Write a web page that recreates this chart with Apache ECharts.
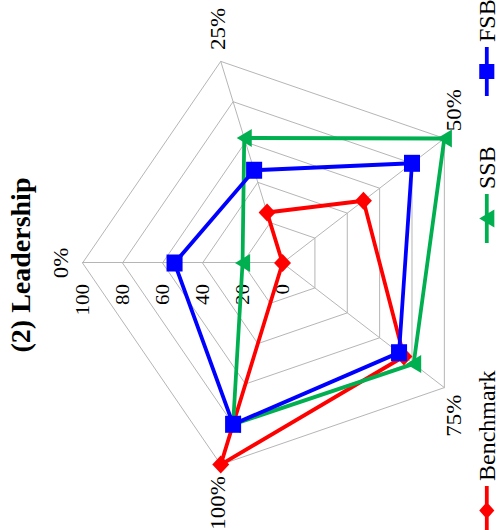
<!DOCTYPE html>
<html><head><meta charset="utf-8">
<script src="https://cdn.jsdelivr.net/npm/echarts@6/dist/echarts.min.js"></script>
<style>
html,body{margin:0;padding:0;background:#fff;overflow:hidden;width:500px;height:530px;}
#wrap{position:absolute;left:0;top:0;width:530px;height:530px;transform-origin:0 0;transform:translate(0px,530px) rotate(-90deg) scaleY(0.9434);}
#chart{width:530px;height:530px;}
</style></head><body>
<div id="wrap"><div id="chart"></div></div>
<script>
const categories = ['0%', '25%', '50%', '75%', '100%'];
const benchmark = [0, 25, 50, 75, 100];
const ssb = [20, 62, 100, 81, 80];
const fsb = [54, 46, 80, 72, 80];
const tickLabels = ['0', '20', '40', '60', '80', '100'];

// ECharts places radar axes counter-clockwise; reorder so they run clockwise
const order = [0, 4, 3, 2, 1];
const pick = arr => order.map(i => arr[i]);
const SERIF = '"Liberation Serif","Times New Roman",serif';
const indicator = order.map((i, k) => ({
  name: categories[i], min: 0, max: 100,
  axisLabel: { show: k === 0 }
}));

const legendBase = {
  orient: 'horizontal', padding: 0, itemWidth: 49, itemHeight: 16, top: 504,
  selectedMode: false, symbolKeepAspect: false,
  textStyle: { fontFamily: SERIF, fontSize: 24, color: '#000' }
};

const option = {
  animation: false,
  title: {
    text: '(2) Leadership', left: 'center', top: 8, padding: 0,
    textStyle: { fontFamily: SERIF, fontSize: 28, fontWeight: 'bold', color: '#000' }
  },
  legend: [
    Object.assign({}, legendBase, { left: -5, data: [{ name: 'Benchmark', icon: 'path://M0 6L49 6L49 10L0 10Z M24.5 0L33 8L24.5 16L16 8Z' }] }),
    Object.assign({}, legendBase, { left: 287, data: [{ name: 'SSB', icon: 'path://M0 6L49 6L49 10L0 10Z M24.5 0L33.5 16L15.5 16Z' }] }),
    Object.assign({}, legendBase, { left: 434, data: [{ name: 'FSB', icon: 'path://M0 6L49 6L49 10L0 10Z M17 0L32 0L32 16L17 16Z' }] })
  ],
  radar: {
    center: [267, 299.5], radius: 212, startAngle: 90, splitNumber: 5, shape: 'polygon',
    indicator: indicator,
    nameGap: 12,
    axisName: { color: '#000', fontFamily: SERIF, fontSize: 23 },
    splitLine: { lineStyle: { color: '#b3b3b3', width: 1 } },
    splitArea: { show: false },
    axisLine: { lineStyle: { color: '#b3b3b3', width: 1 } },
    axisTick: { show: false },
    axisLabel: {
      show: false, color: '#000', fontFamily: SERIF, fontSize: 21, margin: 21,
      formatter: v => tickLabels[Math.round(v / 20)]
    }
  },
  series: [
    { type: 'radar', name: 'Benchmark', symbol: 'diamond', symbolSize: 18,
      lineStyle: { color: '#FF0000', width: 4 }, itemStyle: { color: '#FF0000' },
      data: [{ name: 'Benchmark', value: pick(benchmark), itemStyle: { color: '#FF0000' }, lineStyle: { color: '#FF0000', width: 4 } }] },
    { type: 'radar', name: 'SSB', symbol: 'triangle', symbolSize: [18, 16],
      lineStyle: { color: '#00B050', width: 4 }, itemStyle: { color: '#00B050' },
      data: [{ name: 'SSB', value: pick(ssb), itemStyle: { color: '#00B050' }, lineStyle: { color: '#00B050', width: 4 } }] },
    { type: 'radar', name: 'FSB', symbol: 'rect', symbolSize: 17,
      lineStyle: { color: '#0000FF', width: 4 }, itemStyle: { color: '#0000FF' },
      data: [{ name: 'FSB', value: pick(fsb), itemStyle: { color: '#0000FF' }, lineStyle: { color: '#0000FF', width: 4 } }] }
  ]
};
const chart = echarts.init(document.getElementById('chart'), null, { renderer: 'svg' });
chart.setOption(option);
</script>
</body></html>
